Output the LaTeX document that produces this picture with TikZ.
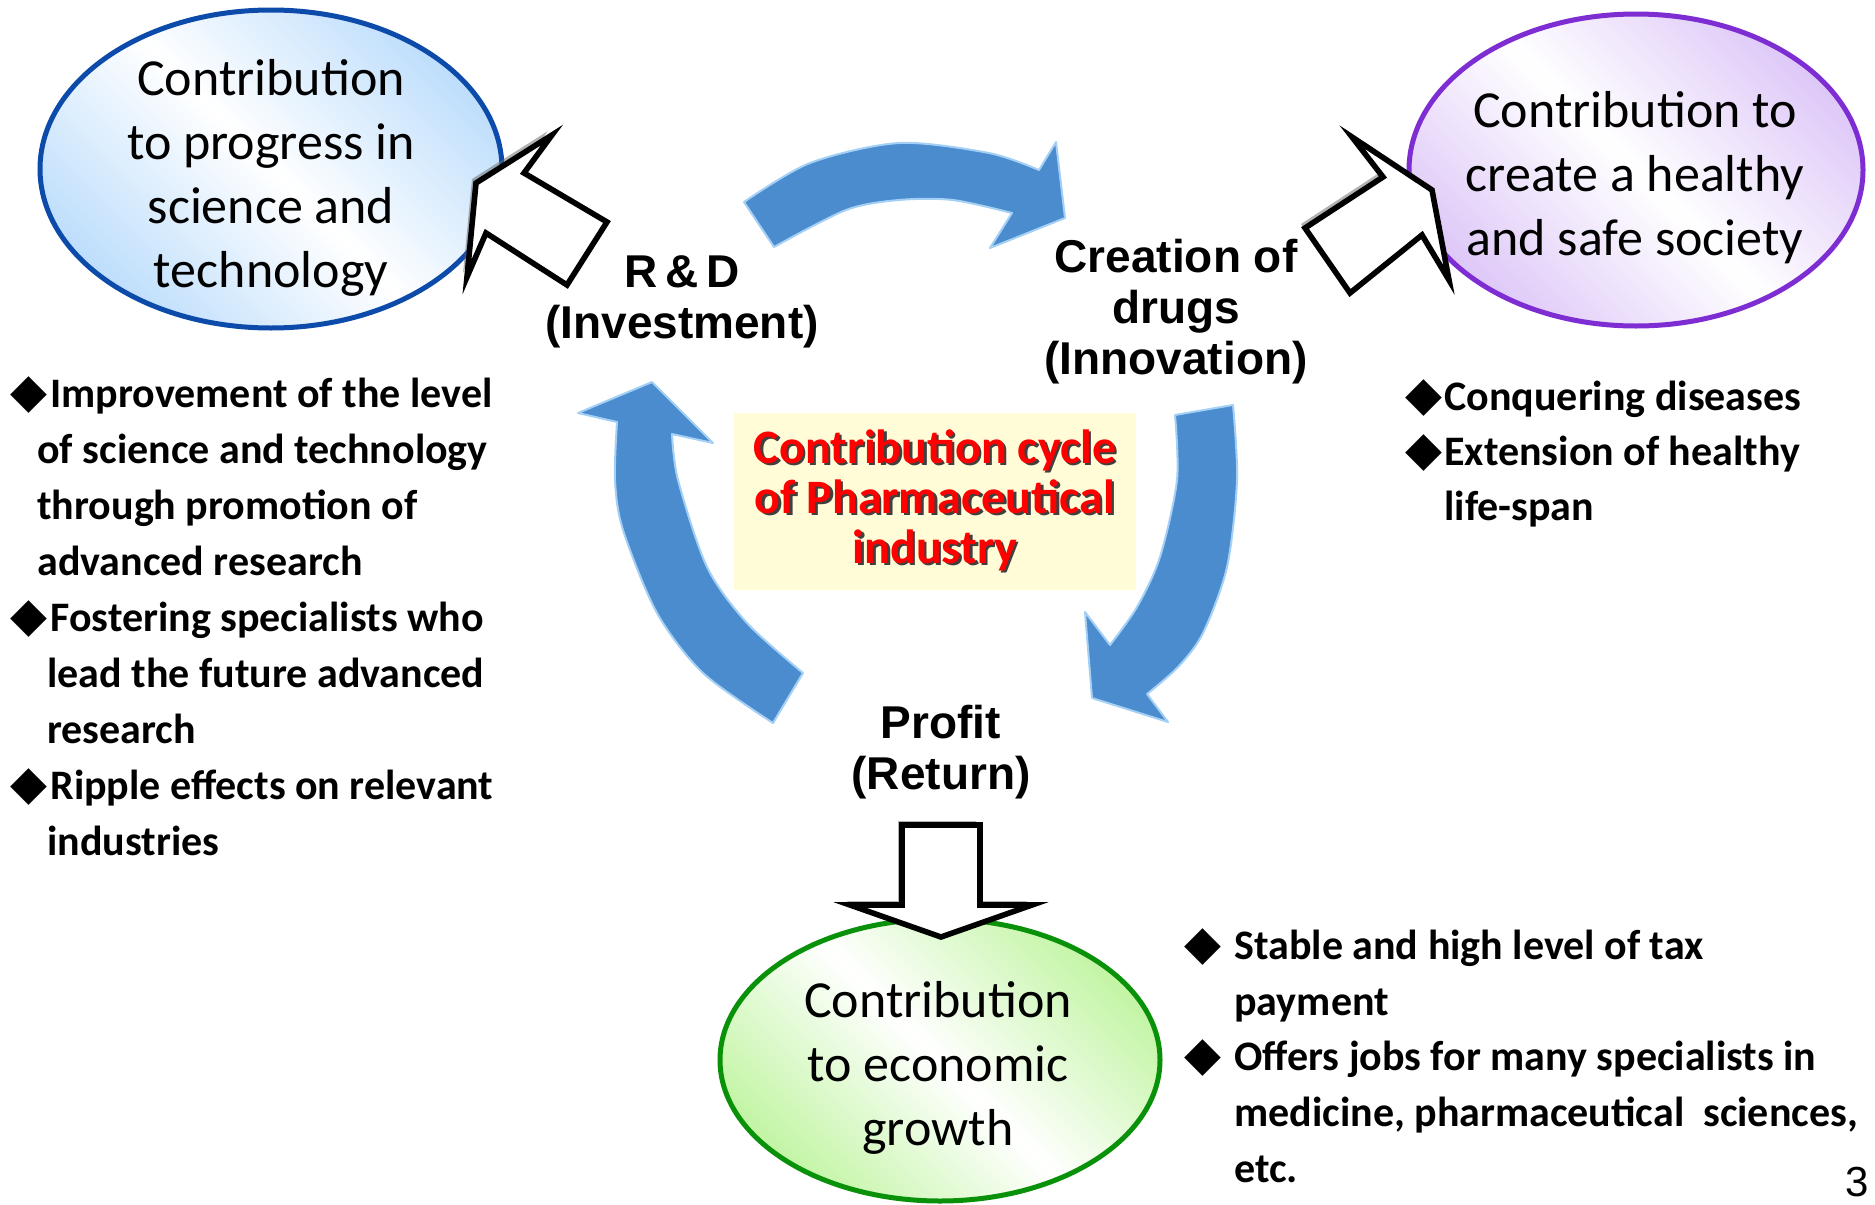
\documentclass[tikz,border=0pt]{standalone}
\usepackage{fontspec}
\setmainfont{Carlito}
\newfontfamily\arialfont{Liberation Sans}
\newfontfamily\symfont{DejaVu Sans}
\usetikzlibrary{shapes.geometric, shadows}
\usepackage{xcolor}

\definecolor{sciblue}{RGB}{12,75,170}
\definecolor{scifill}{RGB}{190,222,252}
\definecolor{socpurple}{RGB}{125,45,210}
\definecolor{socfill}{RGB}{222,200,248}
\definecolor{ecogreen}{RGB}{10,145,10}
\definecolor{ecofill}{RGB}{195,245,165}
\definecolor{boxyellow}{RGB}{255,252,215}
\definecolor{arrowblue}{RGB}{74,140,205}
\definecolor{arrowedge}{RGB}{165,208,245}

\newcommand{\bul}[1]{\makebox[#1][l]{\symfont\fontsize{24}{24}\selectfont ◆}}
\newcommand{\shadowed}[1]{\makebox[0pt][l]{\kern1.2pt\raisebox{-1.2pt}{\color{black!75}#1}}#1}

\begin{document}
\begin{tikzpicture}[x=0.5pt, y=-0.5pt,
  oval/.style={ellipse, line width=2.5pt, inner sep=0pt},
  ovaltext/.style={font=\fontsize{26}{32}\selectfont, align=center, inner sep=0pt, anchor=base},
  cyclelabel/.style={font=\arialfont\bfseries\fontsize{23}{25.5}\selectfont, align=center, inner sep=0pt, anchor=base},
  bullets/.style={font=\bfseries\fontsize{21}{28}\selectfont, align=left, inner sep=0pt, anchor=base west},
  hollow/.style={draw=black, fill=white, line width=2.8pt, line join=miter,
    drop shadow={shadow xshift=-2pt, shadow yshift=2pt, fill=black!60}},
  bluearrow/.style={fill=arrowblue, draw=arrowedge, line width=1pt, line join=round},
  cyclebox/.style={rectangle, fill=boxyellow, minimum width=201pt, minimum height=88.5pt,
    inner sep=0pt, text=red, font=\bfseries\fontsize{24}{25}\selectfont, align=center}]

  \fill[white] (0,0) rectangle (1875,1205);
  \useasboundingbox (0,0) rectangle (1875,1205);

  % the three contributions (text nodes sit on their last baseline)
  \node[oval, draw=sciblue, minimum width=231pt, minimum height=159pt,
    left color=scifill, right color=scifill, middle color=white, shading angle=135] (sci) at (271,169) {};
  \node[ovaltext] (scitext) at (271,287) {Contribution\\to progress in\\science and\\technology};

  \node[oval, draw=socpurple, minimum width=227pt, minimum height=156pt,
    left color=socfill, right color=socfill, middle color=white, shading angle=135] (soc) at (1636,170) {};
  \node[ovaltext] (soctext) at (1635,255) {Contribution to\\create a healthy\\and safe society};

  \node[oval, draw=ecogreen, minimum width=220pt, minimum height=141pt,
    left color=ecofill, right color=ecofill, middle color=white, shading angle=135] (eco) at (940,1060) {};
  \node[ovaltext] (ecotext) at (938,1145) {Contribution\\to economic\\growth};

  % hollow arrows to the contributions
  \draw[hollow] (552,135) -- (524,173) -- (607,222) -- (567,285) -- (486,233) -- (467,277) -- (476,183) -- cycle;
  \draw[hollow] (1352,137) -- (1383,177) -- (1305,228) -- (1350,293) -- (1422,235) -- (1449,280) -- (1432,190) -- cycle;
  \draw[hollow] (902,825) -- (980,825) -- (980,905) -- (1032,905) -- (941,937) -- (850,905) -- (902,905) -- cycle;

  % the cycle
  \path[bluearrow] (744,202)
    -- plot[smooth] coordinates {(744,202) (810,163) (899,143) (989,153) (1039,170)}
    -- (1056,142) -- (1065,218) -- (990,248) -- (1012,213)
    -- plot[smooth] coordinates {(1012,213) (953,200) (899,200) (846,210) (774,247)}
    -- cycle;
  \path[bluearrow] (1175,415) -- (1233,405)
    -- plot[smooth] coordinates {(1233,405) (1237,480) (1227,567) (1203,633) (1178,667) (1147,694)}
    -- (1168,722) -- (1092,698) -- (1085,612) -- (1110,645)
    -- plot[smooth] coordinates {(1110,645) (1137,607) (1160,557) (1177,480) (1175,415)}
    -- cycle;
  \path[bluearrow] (773,723)
    -- plot[smooth] coordinates {(773,723) (703,673) (657,613) (623,530) (615,480) (617,422)}
    -- (578,413) -- (652,382) -- (713,443) -- (672,434)
    -- plot[smooth] coordinates {(672,434) (678,480) (707,567) (747,623) (803,673)}
    -- cycle;

  \node[cyclebox] (cycle) at (935,501.5)
    {\shadowed{Contribution cycle}\\\shadowed{of Pharmaceutical}\\\shadowed{industry}};

  \node[cyclelabel] (rd) at (682,338) {R\,\&\,D\\(Investment)};
  \node[cyclelabel] (drugs) at (1176,374) {Creation of\\drugs\\(Innovation)};
  \node[cyclelabel] (profit) at (941,789) {Profit\\(Return)};

  % effects
  \node[bullets] (scilist) at (10,855) {\bul{20pt}Improvement of the level\\
    \hspace*{13.5pt}of science and technology\\
    \hspace*{13.5pt}through promotion of\\
    \hspace*{13.5pt}advanced research\\
    \bul{20pt}Fostering specialists who\\
    \hspace*{18.5pt}lead the future advanced\\
    \hspace*{18.5pt}research\\
    \bul{20pt}Ripple effects on relevant\\
    \hspace*{18.5pt}industries};
  \node[bullets, font=\bfseries\fontsize{21}{27.3}\selectfont] (soclist) at (1405,520) {\bul{19.5pt}Conquering diseases\\
    \bul{19.5pt}Extension of healthy\\
    \hspace*{19.5pt}life-span};
  \node[bullets, font=\bfseries\fontsize{21}{27.8}\selectfont] (ecolist) at (1184,1182) {\bul{25pt}Stable and high level of tax\\
    \hspace*{25pt}payment\\
    \bul{25pt}Offers jobs for many specialists in\\
    \hspace*{25pt}medicine, pharmaceutical\ \ sciences,\\
    \hspace*{25pt}etc.};

  \node[font=\arialfont\fontsize{21}{21}\selectfont, inner sep=0pt, anchor=base east] (pagenum) at (1869,1196) {3};
\end{tikzpicture}
\end{document}
